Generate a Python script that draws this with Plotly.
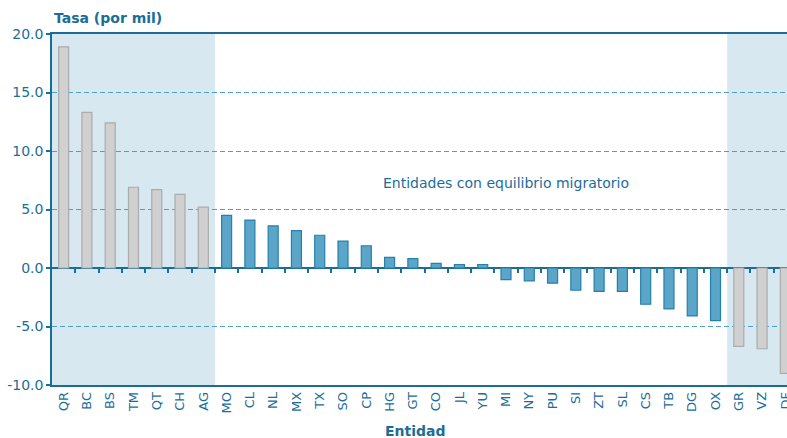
import plotly.graph_objects as go

entidades = ["QR", "BC", "BS", "TM", "QT", "CH", "AG", "MO", "CL", "NL", "MX", "TX", "SO", "CP", "HG",
             "GT", "CO", "JL", "YU", "MI", "NY", "PU", "SI", "ZT", "SL", "CS", "TB", "DG", "OX", "GR", "VZ", "DF"]
tasas = [18.9, 13.3, 12.4, 6.9, 6.7, 6.3, 5.2, 4.5, 4.1, 3.6, 3.2, 2.8, 2.3, 1.9, 0.9,
         0.8, 0.4, 0.3, 0.3, -1.0, -1.1, -1.3, -1.9, -2.0, -2.0, -3.1, -3.5, -4.1, -4.5, -6.7, -6.9, -9.0]
fuera_inicio = 7   # entidades sin equilibrio al inicio (atracción)
fuera_final = 3    # entidades sin equilibrio al final (expulsión)
y_ticks = [-10, -5, 0, 5, 10, 15, 20]
y_ticklabels = ["-10.0", "-5.0", "0.0", "5.0", "10.0", "15.0", "20.0"]

TEXT = "#1B6D98"
n = len(entidades)
fuera = [i < fuera_inicio or i >= n - fuera_final for i in range(n)]
fill = ["#D0D0D0" if f else "#5BA5C8" for f in fuera]
edge = ["#ABABAB" if f else "#2580AA" for f in fuera]

fig = go.Figure()
fig.add_trace(go.Bar(x=list(range(n)), y=tasas, marker=dict(color=fill, line=dict(color=edge, width=1.2)),
                     width=0.43, hoverinfo="x+y"))

# shaded bands
fig.add_shape(type="rect", xref="x", yref="paper", x0=-0.5, x1=fuera_inicio - 0.5, y0=0, y1=1,
              fillcolor="#D8E8F1", line_width=0, layer="below")
fig.add_shape(type="rect", xref="x", yref="paper", x0=n - fuera_final - 0.5, x1=n - 0.5, y0=0, y1=1,
              fillcolor="#D8E8F1", line_width=0, layer="below")

fig.update_layout(
    width=787, height=438,
    margin=dict(l=52, r=0, t=34, b=53, autoexpand=False),
    paper_bgcolor="white", plot_bgcolor="rgba(0,0,0,0)",
    showlegend=False,
    font=dict(family="DejaVu Sans", color=TEXT),
    bargap=0.57,
    xaxis=dict(range=[-0.5, 31.07], tickmode="array", tickvals=list(range(n)), ticktext=entidades,
               tickangle=-90, tickfont=dict(size=13, color=TEXT), ticks="", showgrid=False, automargin=False,
               ticklabeloverflow="allow",
               showline=True, linecolor="#1B6D98", linewidth=1.5, mirror=True, zeroline=False),
    xaxis2=dict(range=[-0.5, 31.07], overlaying="x", anchor="free", position=1 / 3, automargin=False,
                tickmode="array", tickvals=[i + 0.5 for i in range(n)], showticklabels=False,
                ticks="outside", ticklen=4, tickwidth=1.5, tickcolor="#1B6D98",
                showgrid=False, showline=False, zeroline=False),
    yaxis=dict(range=[-10, 20], tickmode="array", tickvals=y_ticks, ticktext=y_ticklabels,
               tickfont=dict(size=14, color=TEXT), ticks="outside", ticklen=4, tickwidth=1.5,
               tickcolor="#1B6D98", showgrid=True, gridcolor="#4BA0C8", griddash="5px,3px", gridwidth=1,
               showline=True, linecolor="#1B6D98", linewidth=1.5, automargin=False,
               zeroline=True, zerolinecolor="#1B6D98", zerolinewidth=1.5),
    annotations=[
        dict(text="<b>Tasa (por mil)</b>", x=0, y=1, xref="paper", yref="paper", xanchor="left",
             yanchor="bottom", yshift=6, showarrow=False, font=dict(size=14, color=TEXT)),
        dict(text="<b>Entidad</b>", x=(415 - 52) / 735, y=-46.5 / 351.5, xref="paper", yref="paper",
             xanchor="center", yanchor="middle", showarrow=False, font=dict(size=14, color=TEXT)),
        dict(text="Entidades con equilibrio migratorio", x=(505.5 - 52) / 735, y=7.3, xref="paper", yref="y",
             xanchor="center", yanchor="middle", showarrow=False, font=dict(size=14, color=TEXT)),
    ],
)
fig.add_trace(go.Scatter(x=[None], y=[None], xaxis="x2", showlegend=False, hoverinfo="skip"))

fig.write_html("out.html", config={"displayModeBar": False},
               post_script="document.body.style.margin='0px';")
